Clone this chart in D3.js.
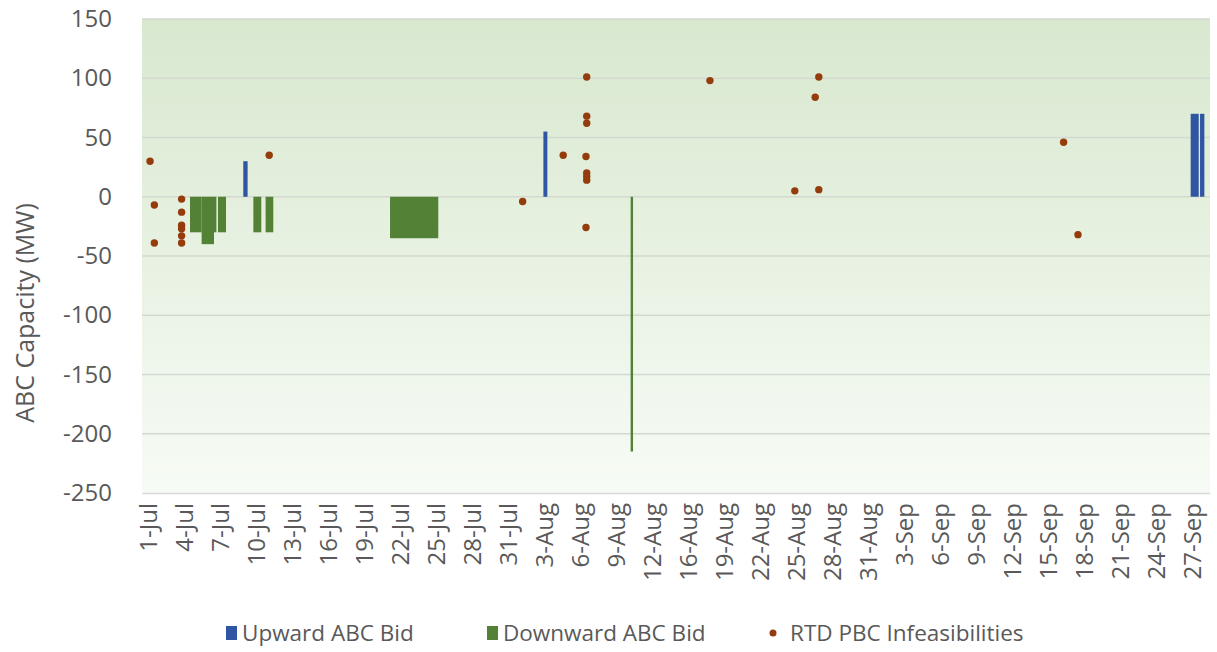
<!DOCTYPE html>
<html><head><meta charset="utf-8">
<script src="https://cdn.jsdelivr.net/npm/d3@7"></script>
<style>
html,body{margin:0;padding:0;background:#fff;}
svg{display:block;font-family:"Open Sans",sans-serif;}
</style></head>
<body><svg id="chart" width="1217" height="652"></svg>
<script>
// ---- data (x positions are in day units from 1-Jul on the category axis) ----
const tickLabels = ["1-Jul","4-Jul","7-Jul","10-Jul","13-Jul","16-Jul","19-Jul","22-Jul","25-Jul","28-Jul","31-Jul",
  "3-Aug","6-Aug","9-Aug","12-Aug","16-Aug","19-Aug","22-Aug","25-Aug","28-Aug","31-Aug",
  "3-Sep","6-Sep","9-Sep","12-Sep","15-Sep","18-Sep","21-Sep","24-Sep","27-Sep"];
const dayCount = 89;
const yTicks = [150,100,50,0,-50,-100,-150,-200,-250];

const upStart = [8.44, 33.45, 87.39, 88.17];
const upEnd   = [8.80, 33.78, 88.06, 88.53];
const upValue = [30, 55, 70, 70];

const downStart = [4.00, 4.97, 6.00, 6.33, 9.28, 10.30, 20.67, 40.72];
const downEnd   = [4.97, 6.00, 6.20, 7.00, 9.94, 10.94, 24.69, 40.92];
const downValue = [-30, -40, -30, -30, -30, -30, -35, -215];

const dotDay   = [0.67,1.03,1.03, 3.3,3.3,3.3,3.3,3.3,3.3, 10.6, 31.72, 35.1,
  37.06,37.06,37.06,37.0,37.06,37.06,37.06,37.0, 47.33, 54.4,56.1,56.4,56.4, 76.8,78.0];
const dotValue = [30,-7,-39, -2,-13,-24,-27,-33,-39, 35, -4, 35,
  101,68,62,34,20,17,14,-26, 98, 5,84,101,6, 46,-32];

const seriesNames = ["Upward ABC Bid","Downward ABC Bid","RTD PBC Infeasibilities"];
const colors = {up:"#2f55a3", down:"#538135", dot:"#943c0c", text:"#595959", grid:"#d3d9d0"};

// ---- layout ----
const svg = d3.select("#chart");
const plot = {left:142, right:1210, top:19, bottom:493};
const x = d3.scaleLinear().domain([0, dayCount]).range([plot.left, plot.right]);
const y = d3.scaleLinear().domain([-250, 150]).range([plot.bottom, plot.top]);

const defs = svg.append("defs");
const grad = defs.append("linearGradient").attr("id","bg").attr("x1",0).attr("y1",0).attr("x2",0).attr("y2",1);
grad.append("stop").attr("offset","0%").attr("stop-color","#d8e8cf");
grad.append("stop").attr("offset","100%").attr("stop-color","#f7fbf5");

svg.append("rect").attr("x",plot.left).attr("y",plot.top)
  .attr("width",plot.right-plot.left).attr("height",plot.bottom-plot.top).attr("fill","url(#bg)");

// gridlines
svg.append("g").selectAll("line").data(yTicks.filter(v=>v!==-250)).join("line")
  .attr("x1",plot.left).attr("x2",plot.right)
  .attr("y1",d=>y(d)).attr("y2",d=>y(d))
  .attr("stroke",colors.grid).attr("stroke-width",1.3);

// y axis
const yAxis = svg.append("g").attr("transform",`translate(${plot.left},0)`)
  .call(d3.axisLeft(y).tickValues(yTicks).tickSize(0).tickPadding(30).tickFormat(d=>String(d)));
yAxis.select(".domain").remove();
yAxis.selectAll("text").attr("fill",colors.text).style("font-size","24px").style("font-family","Open Sans");

// x axis
const xAxis = svg.append("g").attr("transform",`translate(0,${plot.bottom})`)
  .call(d3.axisBottom(x).tickValues(tickLabels.map((_,i)=>i*3+0.5)).tickSize(0)
    .tickFormat((d,i)=>tickLabels[i]));
xAxis.select(".domain").attr("stroke","#d9d9d9").attr("stroke-width",1.5);
xAxis.selectAll("text").attr("fill",colors.text).style("font-size","24px").style("font-family","Open Sans")
  .attr("transform","rotate(-90)").attr("text-anchor","end").attr("x",-10).attr("y",0).attr("dy","0.35em");

// bars
const upData = upStart.map((s,i)=>({s, e:upEnd[i], v:upValue[i]}));
const downData = downStart.map((s,i)=>({s, e:downEnd[i], v:downValue[i]}));
svg.append("g").selectAll("rect").data(downData).join("rect")
  .attr("x",d=>x(d.s)).attr("width",d=>x(d.e)-x(d.s))
  .attr("y",y(0)).attr("height",d=>y(d.v)-y(0)).attr("fill",colors.down);
svg.append("g").selectAll("rect").data(upData).join("rect")
  .attr("x",d=>x(d.s)).attr("width",d=>x(d.e)-x(d.s))
  .attr("y",d=>y(d.v)).attr("height",d=>y(0)-y(d.v)).attr("fill",colors.up);

// dots
svg.append("g").selectAll("circle").data(dotDay.map((d,i)=>({d, v:dotValue[i]}))).join("circle")
  .attr("cx",d=>x(d.d)).attr("cy",d=>y(d.v)).attr("r",3.7).attr("fill",colors.dot);

// y axis title
svg.append("text").attr("transform","translate(34,313) rotate(-90)")
  .attr("text-anchor","middle").attr("fill",colors.text)
  .style("font-size","25px").text("ABC Capacity (MW)");

// legend
const legend = svg.append("g").attr("transform","translate(0,633)");
const legendX = [226, 487, 768];
seriesNames.forEach((name,i)=>{
  const g = legend.append("g").attr("transform",`translate(${legendX[i]},0)`);
  if(i<2){
    g.append("rect").attr("x",0).attr("y",-7).attr("width",11).attr("height",14)
      .attr("fill", i===0?colors.up:colors.down);
  } else {
    g.append("circle").attr("cx",5).attr("cy",0).attr("r",3.5).attr("fill",colors.dot);
  }
  g.append("text").attr("x",i<2?16:22).attr("y",0).attr("dy","0.35em")
    .attr("fill",colors.text).style("font-size","22.5px").text(name);
});
</script></body></html>
